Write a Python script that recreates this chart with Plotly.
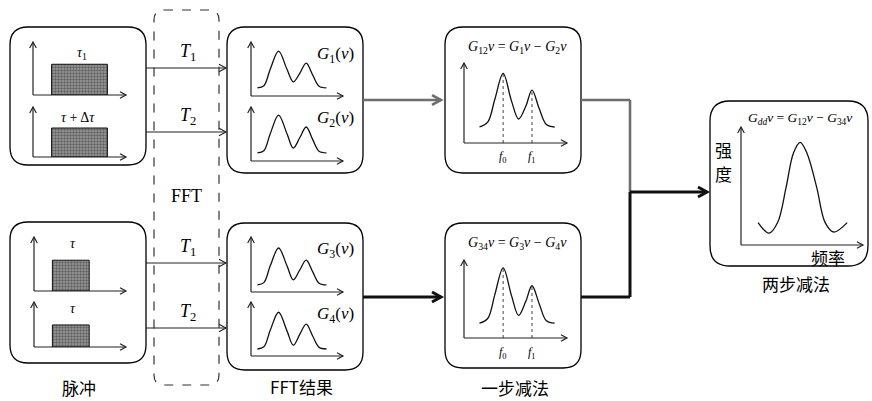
import plotly.graph_objects as go

W, H = 872, 401

# ---------------- data ----------------
PULSE_START = [2.0, 2.0, 2.0, 2.0]
PULSE_END = [8.0, 8.0, 6.0, 6.0]
PULSE_HEIGHT = [5.8, 5.8, 5.7, 4.9]
PULSE_LABELS = ["<i>τ</i><sub>1</sub>", "<i>τ</i> + Δ<i>τ</i>", "<i>τ</i>", "<i>τ</i>"]

G_FREQ = [0.7, 1.4, 2.1, 3.0, 3.9, 4.6, 5.3, 6.0, 6.7, 7.4, 8.2]
G1_AMP = [1.5, 1.9, 5.0, 8.3, 5.0, 2.6, 4.2, 6.1, 3.9, 1.8, 1.5]
G2_AMP = [1.5, 1.9, 5.1, 8.5, 5.1, 2.4, 4.3, 6.3, 4.0, 1.8, 1.5]
G3_AMP = [1.3, 1.7, 4.8, 8.0, 4.8, 2.2, 4.0, 5.8, 3.7, 1.6, 1.3]
G4_AMP = [1.3, 1.7, 4.8, 8.1, 4.7, 2.0, 4.0, 5.9, 3.7, 1.6, 1.3]
G_LABELS = ["<i>G</i><sub>1</sub>(<i>v</i>)", "<i>G</i><sub>2</sub>(<i>v</i>)",
            "<i>G</i><sub>3</sub>(<i>v</i>)", "<i>G</i><sub>4</sub>(<i>v</i>)"]

S_FREQ = [1.5, 2.3, 3.0, 3.8, 4.6, 5.3, 6.0, 6.6, 7.3, 8.0, 8.8]
S1_AMP = [2.0, 2.6, 5.5, 8.7, 5.3, 3.0, 4.6, 6.6, 4.3, 2.3, 2.0]
S2_AMP = [1.9, 2.5, 5.6, 9.0, 5.5, 2.9, 4.7, 6.7, 4.4, 2.2, 1.9]
PEAK_FREQ = [3.8, 6.6]
S1_PEAKS = [8.7, 6.6]
S2_PEAKS = [9.0, 6.7]
PEAK_LABELS = ["<i>f</i><sub>0</sub>", "<i>f</i><sub>1</sub>"]
S_TITLES = ["<i>G</i><sub>12</sub><i>v</i> = <i>G</i><sub>1</sub><i>v</i> − <i>G</i><sub>2</sub><i>v</i>",
            "<i>G</i><sub>34</sub><i>v</i> = <i>G</i><sub>3</sub><i>v</i> − <i>G</i><sub>4</sub><i>v</i>"]

FINAL_FREQ = [1.4, 2.3, 3.0, 3.7, 4.3, 4.85, 5.4, 6.2, 6.9, 7.6, 8.7]
FINAL_AMP = [1.9, 1.0, 1.9, 4.9, 7.8, 8.7, 7.8, 4.9, 1.9, 1.1, 1.9]
FINAL_TITLE = "<i>G</i><sub><i>dd</i></sub><i>v</i> = <i>G</i><sub>12</sub><i>v</i> − <i>G</i><sub>34</sub><i>v</i>"

T_LABELS = ["<i>T</i><sub>1</sub>", "<i>T</i><sub>2</sub>", "<i>T</i><sub>1</sub>", "<i>T</i><sub>2</sub>"]
STAGE_LABELS = ["脉冲", "FFT结果", "一步减法", "两步减法"]
AXIS_Y_LABEL = ["强", "度"]
AXIS_X_LABEL = "频率"

# ---------------- layout geometry (pixels) ----------------
SERIF = "Liberation Serif, Times New Roman, serif"
CJK = "Noto Sans CJK SC"

fig = go.Figure()
shapes = []
annotations = []
layout_axes = {}


def rrect(x0, y0, x1, y1, r, color="black", width=1.3, dash="solid"):
    p = (f"M {x0+r},{y0} L {x1-r},{y0} Q {x1},{y0} {x1},{y0+r} L {x1},{y1-r} "
         f"Q {x1},{y1} {x1-r},{y1} L {x0+r},{y1} Q {x0},{y1} {x0},{y1-r} "
         f"L {x0},{y0+r} Q {x0},{y0} {x0+r},{y0} Z")
    shapes.append(dict(type="path", path=p, xref="x", yref="y",
                       line=dict(color=color, width=width, dash=dash)))


def line(x0, y0, x1, y1, color="black", width=1.2):
    shapes.append(dict(type="line", x0=x0, y0=y0, x1=x1, y1=y1, xref="x", yref="y",
                       line=dict(color=color, width=width)))


def arrow(x0, y0, x1, y1, color="black", width=1.2, head=7, spread=0.55):
    line(x0, y0, x1, y1, color, width)
    dx, dy = x1 - x0, y1 - y0
    L = (dx * dx + dy * dy) ** 0.5
    ux, uy = dx / L, dy / L
    nx, ny = -uy, ux
    ax, ay = x1 - head * ux + head * spread * nx, y1 - head * uy + head * spread * ny
    bx, by = x1 - head * ux - head * spread * nx, y1 - head * uy - head * spread * ny
    shapes.append(dict(type="path", path=f"M {ax},{ay} L {x1},{y1} L {bx},{by}",
                       xref="x", yref="y", line=dict(color=color, width=width)))


def text(x, y, s, size, family=SERIF, color="black", xanchor="center"):
    annotations.append(dict(x=x, y=y, xref="x", yref="y", text=s, showarrow=False,
                            font=dict(size=size, family=family, color=color),
                            xanchor=xanchor, yanchor="middle"))


panel_count = [1]


def panel(x0, x1, ytop, ybase, axcolor="#222", head=6):
    panel_count[0] += 1
    i = panel_count[0]
    layout_axes[f"xaxis{i}"] = dict(domain=[x0 / W, x1 / W], range=[0, 10], visible=False,
                                    anchor=f"y{i}", fixedrange=True)
    layout_axes[f"yaxis{i}"] = dict(domain=[1 - ybase / H, 1 - ytop / H], range=[0, 10],
                                    visible=False, anchor=f"x{i}", fixedrange=True)
    arrow(x0, ybase, x1, ybase, axcolor, 1.2, head)
    arrow(x0, ybase, x0, ytop, axcolor, 1.2, head)
    return f"x{i}", f"y{i}"


# ---------------- boxes ----------------
rrect(10, 27, 146, 165, 18)
rrect(10, 222, 146, 363, 18)
rrect(154, 10, 219, 385, 10, color="#333", width=1.2, dash="dash")
rrect(227, 27, 363, 173, 18)
rrect(227, 223, 363, 370, 18)
rrect(445, 27, 581, 173, 18)
rrect(445, 223, 581, 368, 18)
rrect(710, 101, 868, 266, 20)

# ---------------- pulse panels ----------------
pulse_frames = [(33, 126, 42, 95), (33, 126, 107, 157), (34, 126, 237, 291), (34, 126, 302, 347)]
pulse_label_pos = [(82, 53), (78, 117), (73, 243), (73, 308)]
for k, (x0, x1, yt, yb) in enumerate(pulse_frames):
    xa, ya = panel(x0, x1, yt, yb)
    s, e, h = PULSE_START[k], PULSE_END[k], PULSE_HEIGHT[k]
    fig.add_trace(go.Scatter(x=[s, e, e, s, s], y=[0, 0, h, h, 0], xaxis=xa, yaxis=ya,
                             mode="lines", fill="toself", fillcolor="#7c7c7c",
                             fillpattern=dict(shape=".", fgcolor="#2a2a2a", bgcolor="#9a9a9a",
                                              size=3, solidity=0.5),
                             line=dict(color="#111", width=1), hoverinfo="skip"))
    lx, ly = pulse_label_pos[k]
    text(lx, ly, PULSE_LABELS[k], 14)

# ---------------- FFT arrows ----------------
t_rows = [68, 132, 263, 328]
for k, yv in enumerate(t_rows):
    arrow(146, yv, 226, yv, "#222", 1.1, 7)
    text(188, yv - 16, T_LABELS[k], 18)
text(186, 196, "FFT", 18)

# ---------------- G panels ----------------
g_frames = [(251, 343, 42, 96), (251, 343, 107, 161), (251, 343, 237, 292), (251, 343, 302, 356)]
g_amps = [G1_AMP, G2_AMP, G3_AMP, G4_AMP]
g_label_y = [55, 119, 250, 315]
for k, (x0, x1, yt, yb) in enumerate(g_frames):
    xa, ya = panel(x0, x1, yt, yb)
    fig.add_trace(go.Scatter(x=G_FREQ, y=g_amps[k], xaxis=xa, yaxis=ya, mode="lines",
                             line=dict(color="#111", width=1.3, shape="spline", smoothing=1.0),
                             hoverinfo="skip"))
    text(335, g_label_y[k], G_LABELS[k], 17)

# ---------------- arrows to step panels ----------------
arrow(363, 100, 441, 100, "#6e6e6e", 2.6, 9, 0.55)
arrow(363, 297, 441, 297, "#111", 3, 9, 0.55)

# ---------------- step panels ----------------
s_frames = [(464, 567, 63, 143), (464, 567, 260, 338)]
s_amps = [S1_AMP, S2_AMP]
s_peaks = [S1_PEAKS, S2_PEAKS]
s_title_y = [47, 243]
s_flabel_y = [157, 353]
for k, (x0, x1, yt, yb) in enumerate(s_frames):
    xa, ya = panel(x0, x1, yt, yb)
    for j, f in enumerate(PEAK_FREQ):
        fig.add_trace(go.Scatter(x=[f, f], y=[0, s_peaks[k][j]], xaxis=xa, yaxis=ya, mode="lines",
                                 line=dict(color="#444", width=1, dash="dot"), hoverinfo="skip"))
    fig.add_trace(go.Scatter(x=S_FREQ, y=s_amps[k], xaxis=xa, yaxis=ya, mode="lines",
                             line=dict(color="#111", width=1.3, shape="spline", smoothing=1.0),
                             hoverinfo="skip"))
    text(517, s_title_y[k], S_TITLES[k], 14)
    for j, f in enumerate(PEAK_FREQ):
        px = x0 + f / 10 * (x1 - x0)
        text(px, s_flabel_y[k], PEAK_LABELS[j], 12)

# ---------------- connector ----------------
line(581, 100, 630, 100, "#6e6e6e", 2.6)
line(630, 100, 630, 192, "#6e6e6e", 2.6)
line(581, 297, 630, 297, "#111", 3)
line(630, 297, 630, 192, "#111", 3)
arrow(630, 192, 707, 192, "#111", 3, 9, 0.55)

# ---------------- final panel ----------------
xa, ya = panel(741, 863, 127, 245)
fig.add_trace(go.Scatter(x=FINAL_FREQ, y=FINAL_AMP, xaxis=xa, yaxis=ya, mode="lines",
                         line=dict(color="#111", width=1.3, shape="spline", smoothing=1.0),
                         hoverinfo="skip"))
text(800, 118, FINAL_TITLE, 13.5)
text(723, 149, AXIS_Y_LABEL[0], 17, CJK)
text(723, 173, AXIS_Y_LABEL[1], 17, CJK)
text(828, 257, AXIS_X_LABEL, 17, CJK)

# ---------------- stage labels ----------------
text(79, 387, STAGE_LABELS[0], 17, CJK)
text(301, 386, STAGE_LABELS[1], 17, CJK)
text(515, 387, STAGE_LABELS[2], 17, CJK)
text(796, 283, STAGE_LABELS[3], 17, CJK)

fig.update_layout(
    width=W, height=H, margin=dict(l=0, r=0, t=0, b=0),
    paper_bgcolor="white", plot_bgcolor="white", showlegend=False,
    xaxis=dict(range=[0, W], visible=False, fixedrange=True, domain=[0, 1]),
    yaxis=dict(range=[H, 0], visible=False, fixedrange=True, domain=[0, 1]),
    shapes=shapes, annotations=annotations, **layout_axes,
)
fig.write_html("out.html", config={"displayModeBar": False},
               post_script="document.body.style.margin='0';document.body.style.overflow='hidden';")
